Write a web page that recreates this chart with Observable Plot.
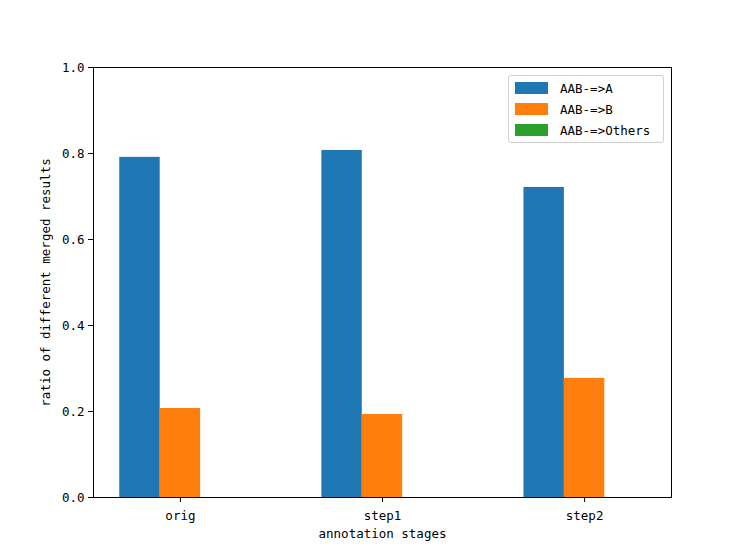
<!DOCTYPE html>
<html>
<head>
<meta charset="utf-8">
<script src="https://cdn.jsdelivr.net/npm/d3@7"></script>
<script src="https://cdn.jsdelivr.net/npm/@observablehq/plot@0.6"></script>
<style>
  html, body { margin: 0; padding: 0; background: #fff; }
  #wrap { position: relative; width: 747px; height: 560px; }
  #legend {
    position: absolute; left: 508px; top: 75px; width: 156px; height: 68px;
    border: 1px solid #d0d0d0; border-radius: 3px; background: rgba(255,255,255,0.8);
    font-family: "DejaVu Sans Mono", monospace; font-size: 12.5px; color: #000;
    box-sizing: border-box;
  }
  .row { position: absolute; left: 6px; height: 12px; display: flex; align-items: center; }
  .sw { width: 33px; height: 12px; margin-right: 12px; }
</style>
</head>
<body>
<div id="wrap"></div>
<script>
const stages = ["orig", "step1", "step2"];
const seriesNames = ["AAB-=>A", "AAB-=>B", "AAB-=>Others"];
const valA = [0.791, 0.807, 0.721];
const valB = [0.207, 0.193, 0.277];
const valOthers = [0, 0, 0];
const colors = ["#1f77b4", "#ff7f0e", "#2ca02c"];
const yTicks = [0, 0.2, 0.4, 0.6, 0.8, 1.0];

const seriesVals = [valA, valB, valOthers];
const barW = 0.2;
const rows = [];
seriesVals.forEach((vals, j) => {
  vals.forEach((v, i) => {
    const c = i + (j - 1) * barW;
    rows.push({stage: stages[i], series: seriesNames[j], x1: c - barW / 2, x2: c + barW / 2, y: v});
  });
});

const font = "DejaVu Sans Mono, monospace";
const fs = 12.5;
const chart = Plot.plot({
  width: 747,
  height: 560,
  marginLeft: 93,
  marginRight: 76,
  marginTop: 67,
  marginBottom: 63,
  style: {fontFamily: font, fontSize: fs + "px", color: "#000", background: "#fff"},
  x: {type: "linear", domain: [-0.43, 2.43]},
  y: {domain: [0, 1]},
  color: {domain: seriesNames, range: colors},
  marks: [
    Plot.rectY(rows, {x1: "x1", x2: "x2", y1: 0, y2: "y", fill: "series"}),
    Plot.frame({stroke: "#000", strokeWidth: 1}),
    Plot.axisX({ticks: [0, 1, 2], tickFormat: i => stages[i], tickSize: 5, tickPadding: 9,
      label: null, fontSize: fs, stroke: "#000"}),
    Plot.axisY({ticks: yTicks, tickFormat: d3.format(".1f"), tickSize: 5, tickPadding: 4,
      label: null, fontSize: fs, stroke: "#000"}),
    Plot.text(["annotation stages"], {frameAnchor: "bottom", dy: 40, text: d => d, fontSize: fs, fill: "#000"}),
    Plot.text(["ratio of different merged results"], {frameAnchor: "left", textAnchor: "middle", dx: -48, rotate: -90, text: d => d, fontSize: fs, fill: "#000"})
  ]
});
const wrap = document.getElementById("wrap");
wrap.appendChild(chart);

const legend = document.createElement("div");
legend.id = "legend";
seriesNames.forEach((name, j) => {
  const r = document.createElement("div");
  r.className = "row";
  r.style.top = (6 + j * 21) + "px";
  const sw = document.createElement("div");
  sw.className = "sw";
  sw.style.background = colors[j];
  const t = document.createElement("span");
  t.textContent = name;
  r.appendChild(sw);
  r.appendChild(t);
  legend.appendChild(r);
});
wrap.appendChild(legend);
</script>
</body>
</html>
